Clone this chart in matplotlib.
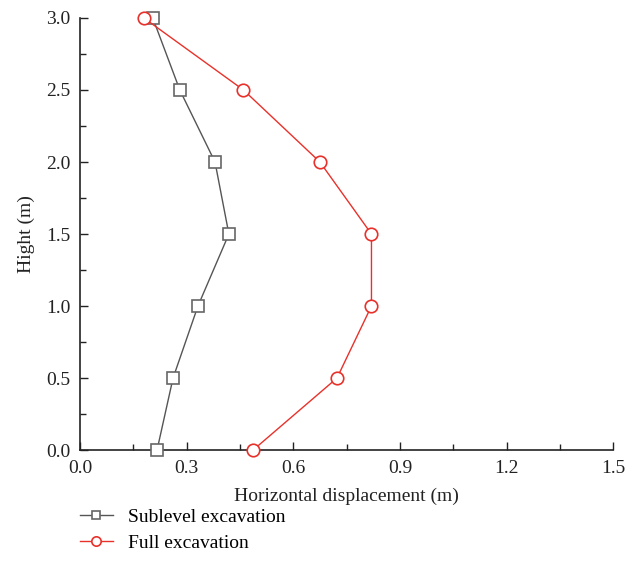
import matplotlib.pyplot as plt
from matplotlib.ticker import MultipleLocator

# data
height = [0.0, 0.5, 1.0, 1.5, 2.0, 2.5, 3.0]
sublevel = [0.217, 0.262, 0.332, 0.419, 0.38, 0.281, 0.205]
full = [0.487, 0.723, 0.82, 0.82, 0.675, 0.46, 0.18]

plt.rcParams['font.family'] = ['Liberation Serif', 'DejaVu Serif']
plt.rcParams['font.size'] = 14

fig = plt.figure(figsize=(6.29, 5.8), dpi=100)
ax = fig.add_axes([0.127, 0.224, 0.848, 0.745])

ax.plot(sublevel, height, color='#555555', lw=1, marker='s', ms=8,
        mfc='white', mec='#666666', mew=1.2, label='Sublevel excavation',
        clip_on=False, zorder=3)
ax.plot(full, height, color='#e8312a', lw=1, marker='o', ms=9,
        mfc='white', mec='#e8312a', mew=1.2, label='Full excavation',
        clip_on=False, zorder=3)

ax.set_xlim(0, 1.5)
ax.set_ylim(0, 3.0)
ax.xaxis.set_major_locator(MultipleLocator(0.3))
ax.xaxis.set_minor_locator(MultipleLocator(0.15))
ax.yaxis.set_major_locator(MultipleLocator(0.5))
ax.yaxis.set_minor_locator(MultipleLocator(0.25))
ax.tick_params(which='both', direction='in', color='#222222', pad=7)
ax.tick_params(which='major', length=6, width=1)
ax.tick_params(which='minor', length=4, width=1)
ax.set_xticklabels([f'{v:.1f}' for v in ax.get_xticks()])
ax.set_yticklabels([f'{v:.1f}' for v in ax.get_yticks()])
ax.spines['top'].set_visible(False)
ax.spines['right'].set_visible(False)
for s in ['left', 'bottom']:
    ax.spines[s].set_linewidth(1.2)
    ax.spines[s].set_color('#222222')
for lab in ax.get_xticklabels() + ax.get_yticklabels():
    lab.set_color('#222222')

ax.set_xlabel('Horizontal displacement (m)', color='#222222', labelpad=8)
ax.set_ylabel('Hight (m)', color='#222222', labelpad=8)

fig.legend(loc='upper left', bbox_to_anchor=(0.099, 0.154), frameon=False,
           handlelength=1.7, handletextpad=0.8, labelspacing=0.45,
           markerscale=0.75, fontsize=14)

fig.savefig('out.png', dpi=100)
